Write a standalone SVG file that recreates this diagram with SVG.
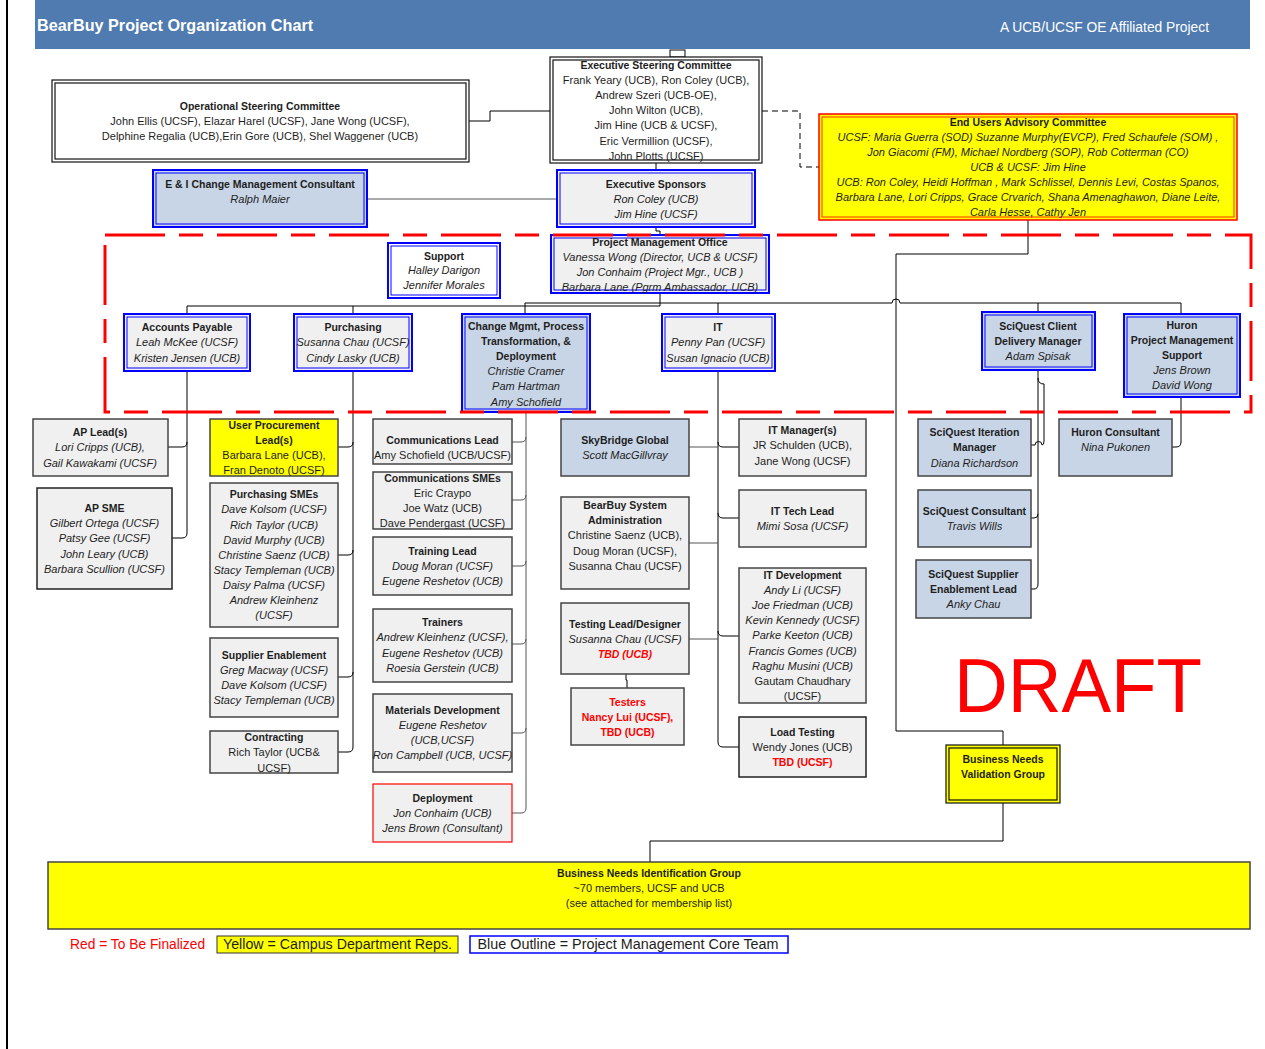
<svg xmlns="http://www.w3.org/2000/svg" width="1265" height="1049" viewBox="0 0 1265 1049">
<defs>
<style>
text{font-family:"Liberation Sans",Arial,sans-serif;font-size:11px;fill:#1e1e1e;text-anchor:middle}
.b{font-weight:bold;font-size:10.5px}
.i{font-style:italic}
.red{fill:#ff0000}
.g{fill:#f0f0f0;stroke:#444;stroke-width:1.5}
.gb{fill:#f0f0f0;stroke:#222;stroke-width:1.5}
.lbg{fill:#c8d5e6;stroke:#444;stroke-width:1.5}
.bo{stroke:#0000ff;stroke-width:2}
.bi{fill:none;stroke:#0000ff;stroke-width:1}
.fg{fill:#f0f0f0}
.fl{fill:#c8d5e6}
.fw{fill:#ffffff}
.ko{stroke:#111;stroke-width:1.2}
.ki{fill:none;stroke:#111;stroke-width:1.2}
.c{fill:none;stroke:#000;stroke-width:1}
.cg{fill:none;stroke:#555;stroke-width:1}
.lg{font-size:13.8px}
</style>
</defs>
<rect width="1265" height="1049" fill="#fff"/>
<line x1="7" y1="0" x2="7" y2="1049" stroke="#000" stroke-width="2"/>
<g id="header">
<rect x="35" y="0" width="1215" height="49" fill="#4f7bb0"/>
<text x="37" y="31" style="text-anchor:start;font-weight:bold;font-size:16.2px;fill:#fff">BearBuy Project Organization Chart</text>
<text x="1209" y="32" style="text-anchor:end;font-size:13.8px;fill:#fff">A UCB/UCSF OE Affiliated Project</text>
</g>
<g id="connectors">
<rect x="670" y="50" width="15" height="7" fill="#fff" stroke="#000" stroke-width="1"/>
<path class="c" d="M469 121 H490 V111 H550"/>
<path class="cg" d="M367 199 H557"/>
<path class="c" d="M656 163 V170"/>
<path class="c" d="M656 227 V231 H660 V235"/>
<path class="c" d="M762 111 H800 V167 H819" stroke-dasharray="6 4"/>
<path class="c" d="M660 293 V306 H187 V314 M353 306 V314"/>
<path class="c" d="M525 314 V303 H892 a4 4 0 0 1 8 0 H1181 V314 M718 303 V314 M1038 303 V312"/>
<path class="c" d="M1028 220 V254 H896 V731 H1003 V745"/>
<path class="c" d="M1003 803 V841 H650 V862"/>
<path class="c" d="M187 371 V533 Q187 538 182 538 H172 M168 447 H182 Q187 447 187 442"/>
<path class="c" d="M353 371 V747 Q353 752 348 752 H338 M338 447 H348 Q353 447 353 442 M338 555 H348 Q353 555 353 550 M338 677 H348 Q353 677 353 672"/>
<path class="cg" d="M526 412 V808 Q526 813 521 813 H512 M512 442 H521 Q526 442 526 437 M512 500 H521 Q526 500 526 495 M512 566 H521 Q526 566 526 561 M512 644 H521 Q526 644 526 639 M512 733 H521 Q526 733 526 728"/>
<path class="c" d="M718 371 V742 Q718 747 723 747 H739" stroke-width="1.6"/>
<path class="c" d="M718 442 Q718 447 723 447 H739 M718 513 Q718 518 723 518 H739 M718 631 Q718 636 723 636 H739"/>
<path class="cg" d="M689 447 H718 M689 543 H718 M689 639 H718"/>
<path class="c" d="M626 674 V680 H627 V688"/>
<path class="c" d="M1038 370 V584 Q1038 589 1034 589 H1031 M1031 518 H1034 Q1038 518 1038 514"/>
<path class="c" d="M1038 378 Q1038 384 1044 384 V441 Q1044 445 1042 445 A3.5 3.5 0 0 0 1035 445 H1031"/>
<path class="c" d="M1181 397 V442 Q1181 447 1176 447 H1172"/>
</g>
<g id="osc">
<rect x="52" y="80" width="417" height="82" class="ko" fill="#fff"/>
<rect x="55" y="83" width="411" height="76" class="ki"/>
<text x="260" y="110" class="b">Operational Steering Committee</text>
<text x="260" y="125">John Ellis (UCSF),  Elazar Harel (UCSF), Jane Wong (UCSF),</text>
<text x="260" y="140">Delphine Regalia (UCB),Erin Gore (UCB), Shel Waggener (UCB)</text>
</g>
<g id="esc">
<rect x="550" y="57" width="212" height="106" class="ko" fill="#fff"/>
<rect x="553" y="60" width="206" height="100" class="ki"/>
<text x="656" y="69" class="b">Executive Steering Committee</text>
<text x="656" y="84">Frank Yeary (UCB), Ron Coley (UCB),</text>
<text x="656" y="99">Andrew Szeri (UCB-OE),</text>
<text x="656" y="114">John Wilton (UCB),</text>
<text x="656" y="129">Jim Hine (UCB &amp; UCSF),</text>
<text x="656" y="145">Eric Vermillion (UCSF),</text>
<text x="656" y="160">John Plotts (UCSF)</text>
</g>
<g id="ei">
<rect x="153" y="170" width="214" height="57" class="bo fl"/>
<rect x="156" y="173" width="208" height="51" class="bi"/>
<text x="260" y="188" class="b">E &amp; I Change Management Consultant</text>
<text x="260" y="203" class="i">Ralph Maier</text>
</g>
<g id="sponsors">
<rect x="557" y="170" width="198" height="57" class="bo fg"/>
<rect x="560" y="173" width="192" height="51" class="bi"/>
<text x="656" y="188" class="b">Executive  Sponsors</text>
<text x="656" y="203" class="i">Ron Coley (UCB)</text>
<text x="656" y="218" class="i">Jim Hine (UCSF)</text>
</g>
<g id="pmo">
<rect x="551" y="235" width="218" height="58" class="bo fg"/>
<rect x="554" y="238" width="212" height="52" class="bi"/>
<text x="660" y="246" class="b">Project Management Office</text>
<text x="660" y="261" class="i">Vanessa Wong (Director, UCB &amp; UCSF)</text>
<text x="660" y="276" class="i">Jon Conhaim (Project Mgr., UCB )</text>
<text x="660" y="291" class="i">Barbara Lane (Pgrm Ambassador, UCB)</text>
</g>
<g id="eu">
<rect x="819" y="114" width="418" height="106" fill="#ffff00" stroke="#ff0000" stroke-width="1.5"/>
<rect x="822" y="117" width="412" height="100" fill="none" stroke="#ff3300" stroke-width="1"/>
<text x="1028" y="126" class="b">End Users Advisory Committee</text>
<text x="1028" y="141" class="i">UCSF:  Maria Guerra (SOD)  Suzanne Murphy(EVCP), Fred Schaufele (SOM) ,</text>
<text x="1028" y="156" class="i">Jon Giacomi (FM),  Michael Nordberg (SOP), Rob Cotterman (CO)</text>
<text x="1028" y="171" class="i">UCB &amp; UCSF: Jim Hine</text>
<text x="1028" y="186" class="i">UCB: Ron Coley, Heidi Hoffman , Mark Schlissel, Dennis Levi, Costas Spanos,</text>
<text x="1028" y="201" class="i">Barbara Lane, Lori Cripps, Grace Crvarich, Shana Amenaghawon,  Diane Leite,</text>
<text x="1028" y="216" class="i">Carla Hesse, Cathy Jen</text>
</g>
<g id="support">
<rect x="388" y="243" width="112" height="55" class="bo fw"/>
<rect x="391" y="246" width="106" height="49" class="bi"/>
<text x="444" y="260" class="b">Support</text>
<text x="444" y="274" class="i">Halley Darigon</text>
<text x="444" y="289" class="i">Jennifer Morales</text>
</g>
<g id="ap">
<rect x="124" y="314" width="126" height="57" class="bo fg"/>
<rect x="127" y="317" width="120" height="51" class="bi"/>
<text x="187" y="331" class="b">Accounts Payable</text>
<text x="187" y="346" class="i">Leah McKee (UCSF)</text>
<text x="187" y="362" class="i">Kristen Jensen (UCB)</text>
</g>
<g id="purchasing">
<rect x="294" y="314" width="118" height="57" class="bo fg"/>
<rect x="297" y="317" width="112" height="51" class="bi"/>
<text x="353" y="331" class="b">Purchasing</text>
<text x="353" y="346" class="i">Susanna Chau (UCSF)</text>
<text x="353" y="362" class="i">Cindy Lasky (UCB)</text>
</g>
<g id="changemgmt">
<rect x="462" y="314" width="128" height="98" class="bo fl"/>
<rect x="465" y="317" width="122" height="92" class="bi"/>
<text x="526" y="330" class="b">Change Mgmt, Process</text>
<text x="526" y="345" class="b">Transformation, &amp;</text>
<text x="526" y="360" class="b">Deployment</text>
<text x="526" y="375" class="i">Christie Cramer</text>
<text x="526" y="390" class="i">Pam Hartman</text>
<text x="526" y="406" class="i">Amy Schofield</text>
</g>
<g id="it">
<rect x="662" y="314" width="113" height="57" class="bo fg"/>
<rect x="665" y="317" width="107" height="51" class="bi"/>
<text x="718" y="331" class="b">IT</text>
<text x="718" y="346" class="i">Penny Pan (UCSF)</text>
<text x="718" y="362" class="i">Susan Ignacio (UCB)</text>
</g>
<g id="sqcdm">
<rect x="982" y="312" width="113" height="58" class="bo fl"/>
<rect x="985" y="315" width="107" height="52" class="bi"/>
<text x="1038" y="330" class="b">SciQuest Client</text>
<text x="1038" y="345" class="b">Delivery Manager</text>
<text x="1038" y="360" class="i">Adam Spisak</text>
</g>
<g id="huron">
<rect x="1124" y="314" width="116" height="83" class="bo fl"/>
<rect x="1127" y="317" width="110" height="77" class="bi"/>
<text x="1182" y="329" class="b">Huron</text>
<text x="1182" y="344" class="b">Project Management</text>
<text x="1182" y="359" class="b">Support</text>
<text x="1182" y="374" class="i">Jens Brown</text>
<text x="1182" y="389" class="i">David Wong</text>
</g>
<g id="aplead">
<rect x="33" y="419" width="135" height="57" class="g"/>
<text x="100" y="436" class="b">AP Lead(s)</text>
<text x="100" y="451" class="i">Lori Cripps (UCB),</text>
<text x="100" y="467" class="i">Gail Kawakami (UCSF)</text>
</g>
<g id="apsme">
<rect x="37" y="488" width="135" height="101" class="gb"/>
<text x="104.5" y="512" class="b">AP SME</text>
<text x="104.5" y="527" class="i">Gilbert Ortega (UCSF)</text>
<text x="104.5" y="542" class="i">Patsy Gee (UCSF)</text>
<text x="104.5" y="558" class="i">John Leary (UCB)</text>
<text x="104.5" y="573" class="i">Barbara Scullion (UCSF)</text>
</g>
<g id="upl">
<rect x="210" y="419" width="128" height="57" fill="#ffff00" stroke="#444" stroke-width="1.5"/>
<text x="274" y="429" class="b">User Procurement</text>
<text x="274" y="444" class="b">Lead(s)</text>
<text x="274" y="459">Barbara Lane (UCB),</text>
<text x="274" y="474">Fran Denoto (UCSF)</text>
</g>
<g id="psmes">
<rect x="210" y="483" width="128" height="144" class="g"/>
<text x="274" y="498" class="b">Purchasing SMEs</text>
<text x="274" y="513" class="i">Dave Kolsom (UCSF)</text>
<text x="274" y="529" class="i">Rich Taylor (UCB)</text>
<text x="274" y="544" class="i">David Murphy (UCB)</text>
<text x="274" y="559" class="i">Christine Saenz (UCB)</text>
<text x="274" y="574" class="i">Stacy Templeman (UCB)</text>
<text x="274" y="589" class="i">Daisy Palma (UCSF)</text>
<text x="274" y="604" class="i">Andrew Kleinhenz</text>
<text x="274" y="619" class="i">(UCSF)</text>
</g>
<g id="supen">
<rect x="210" y="638" width="128" height="79" class="g"/>
<text x="274" y="659" class="b">Supplier Enablement</text>
<text x="274" y="674" class="i">Greg Macway (UCSF)</text>
<text x="274" y="689" class="i">Dave Kolsom (UCSF)</text>
<text x="274" y="704" class="i">Stacy Templeman (UCB)</text>
</g>
<g id="contracting">
<rect x="210" y="731" width="128" height="42" class="g"/>
<text x="274" y="741" class="b">Contracting</text>
<text x="274" y="756">Rich Taylor (UCB&amp;</text>
<text x="274" y="772">UCSF)</text>
</g>
<g id="commlead">
<rect x="373" y="419" width="139" height="45" class="g"/>
<text x="442.5" y="444" class="b">Communications Lead</text>
<text x="442.5" y="459">Amy Schofield (UCB/UCSF)</text>
</g>
<g id="commsmes">
<rect x="373" y="472" width="139" height="57" class="g"/>
<text x="442.5" y="482" class="b">Communications SMEs</text>
<text x="442.5" y="497">Eric Craypo</text>
<text x="442.5" y="512">Joe Watz (UCB)</text>
<text x="442.5" y="527">Dave Pendergast (UCSF)</text>
</g>
<g id="traininglead">
<rect x="373" y="537" width="139" height="58" class="g"/>
<text x="442.5" y="555" class="b">Training Lead</text>
<text x="442.5" y="570" class="i">Doug Moran (UCSF)</text>
<text x="442.5" y="585" class="i">Eugene Reshetov  (UCB)</text>
</g>
<g id="trainers">
<rect x="373" y="609" width="139" height="73" class="g"/>
<text x="442.5" y="626" class="b">Trainers</text>
<text x="442.5" y="641" class="i">Andrew Kleinhenz (UCSF),</text>
<text x="442.5" y="657" class="i">Eugene Reshetov (UCB)</text>
<text x="442.5" y="672" class="i">Roesia Gerstein (UCB)</text>
</g>
<g id="materials">
<rect x="373" y="694" width="139" height="78" class="g"/>
<text x="442.5" y="714" class="b">Materials Development</text>
<text x="442.5" y="729" class="i">Eugene Reshetov</text>
<text x="442.5" y="744" class="i">(UCB,UCSF)</text>
<text x="442.5" y="759" class="i">Ron Campbell (UCB, UCSF)</text>
</g>
<g id="deployment">
<rect x="373" y="784" width="139" height="58" fill="#f0f0f0" stroke="#ff0000" stroke-width="1.2"/>
<text x="442.5" y="802" class="b">Deployment</text>
<text x="442.5" y="817" class="i">Jon Conhaim (UCB)</text>
<text x="442.5" y="832" class="i">Jens Brown (Consultant)</text>
</g>
<g id="skybridge">
<rect x="561" y="419" width="128" height="57" class="lbg"/>
<text x="625" y="444" class="b">SkyBridge Global</text>
<text x="625" y="459" class="i">Scott MacGillvray</text>
</g>
<g id="bbsa">
<rect x="561" y="497" width="128" height="92" class="g"/>
<text x="625" y="509" class="b">BearBuy System</text>
<text x="625" y="524" class="b">Administration</text>
<text x="625" y="539">Christine Saenz (UCB),</text>
<text x="625" y="555">Doug Moran (UCSF),</text>
<text x="625" y="570">Susanna Chau (UCSF)</text>
</g>
<g id="testlead">
<rect x="561" y="603" width="128" height="71" class="g"/>
<text x="625" y="628" class="b">Testing Lead/Designer</text>
<text x="625" y="643" class="i">Susanna Chau (UCSF)</text>
<text x="625" y="658" class="b i red">TBD (UCB)</text>
</g>
<g id="testers">
<rect x="571" y="688" width="113" height="57" class="g"/>
<text x="627.5" y="706" class="b red">Testers</text>
<text x="627.5" y="721" class="b red">Nancy Lui (UCSF),</text>
<text x="627.5" y="736" class="b red">TBD (UCB)</text>
</g>
<g id="itmgr">
<rect x="739" y="419" width="127" height="57" class="g"/>
<text x="802.5" y="434" class="b">IT Manager(s)</text>
<text x="802.5" y="449">JR Schulden (UCB),</text>
<text x="802.5" y="465">Jane Wong (UCSF)</text>
</g>
<g id="ittech">
<rect x="739" y="490" width="127" height="57" class="g"/>
<text x="802.5" y="515" class="b">IT Tech Lead</text>
<text x="802.5" y="530" class="i">Mimi Sosa (UCSF)</text>
</g>
<g id="itdev">
<rect x="739" y="568" width="127" height="135" class="g"/>
<text x="802.5" y="579" class="b">IT Development</text>
<text x="802.5" y="594" class="i">Andy Li (UCSF)</text>
<text x="802.5" y="609" class="i">Joe Friedman (UCB)</text>
<text x="802.5" y="624" class="i">Kevin Kennedy (UCSF)</text>
<text x="802.5" y="639" class="i">Parke Keeton (UCB)</text>
<text x="802.5" y="655" class="i">Francis Gomes (UCB)</text>
<text x="802.5" y="670" class="i">Raghu Musini (UCB)</text>
<text x="802.5" y="685">Gautam Chaudhary</text>
<text x="802.5" y="700">(UCSF)</text>
</g>
<g id="loadtest">
<rect x="739" y="717" width="127" height="60" class="gb"/>
<text x="802.5" y="736" class="b">Load Testing</text>
<text x="802.5" y="751">Wendy Jones (UCB)</text>
<text x="802.5" y="766" class="b red">TBD (UCSF)</text>
</g>
<g id="sqiter">
<rect x="918" y="419" width="113" height="57" class="lbg"/>
<text x="974.5" y="436" class="b">SciQuest Iteration</text>
<text x="974.5" y="451" class="b">Manager</text>
<text x="974.5" y="467" class="i">Diana Richardson</text>
</g>
<g id="sqcons">
<rect x="918" y="490" width="113" height="57" class="lbg"/>
<text x="974.5" y="515" class="b">SciQuest Consultant</text>
<text x="974.5" y="530" class="i">Travis Wills</text>
</g>
<g id="sqsup">
<rect x="916" y="560" width="115" height="58" class="lbg"/>
<text x="973.5" y="578" class="b">SciQuest Supplier</text>
<text x="973.5" y="593" class="b">Enablement Lead</text>
<text x="973.5" y="608" class="i">Anky Chau</text>
</g>
<g id="huroncons">
<rect x="1059" y="419" width="113" height="57" class="lbg"/>
<text x="1115.5" y="436" class="b">Huron Consultant</text>
<text x="1115.5" y="451" class="i">Nina Pukonen</text>
</g>
<g id="bnvg">
<rect x="946" y="745" width="114" height="58" class="ko" fill="#ffff00"/>
<rect x="949" y="748" width="108" height="52" class="ki"/>
<text x="1003" y="763" class="b">Business Needs</text>
<text x="1003" y="778" class="b">Validation Group</text>
</g>
<g id="bnig">
<rect x="48" y="862" width="1202" height="67" fill="#ffff00" stroke="#444" stroke-width="1.5"/>
<text x="649" y="877" class="b">Business Needs Identification Group</text>
<text x="649" y="892">~70 members, UCSF and UCB</text>
<text x="649" y="907">(see attached for membership list)</text>
</g>
<rect x="105" y="235" width="1146" height="177" fill="none" stroke="#ff0000" stroke-width="3" stroke-dasharray="60 14 24 14"/>
<text x="954" y="712" style="text-anchor:start;font-size:76px;fill:#ff0000" textLength="248" lengthAdjust="spacingAndGlyphs">DRAFT</text>
<g id="legend">
<text x="70" y="949" class="lg" style="text-anchor:start;fill:#ff0000">Red = To Be Finalized</text>
<rect x="217" y="936" width="241" height="17" fill="#ffff00" stroke="#333" stroke-width="1"/>
<text x="337.5" y="949" class="lg" textLength="229" lengthAdjust="spacingAndGlyphs">Yellow = Campus Department Reps.</text>
<rect x="470" y="936" width="318" height="17" fill="#fff" stroke="#0000ff" stroke-width="1.5"/>
<text x="628" y="949" class="lg" textLength="301" lengthAdjust="spacingAndGlyphs">Blue Outline = Project Management Core Team</text>
</g>
</svg>
